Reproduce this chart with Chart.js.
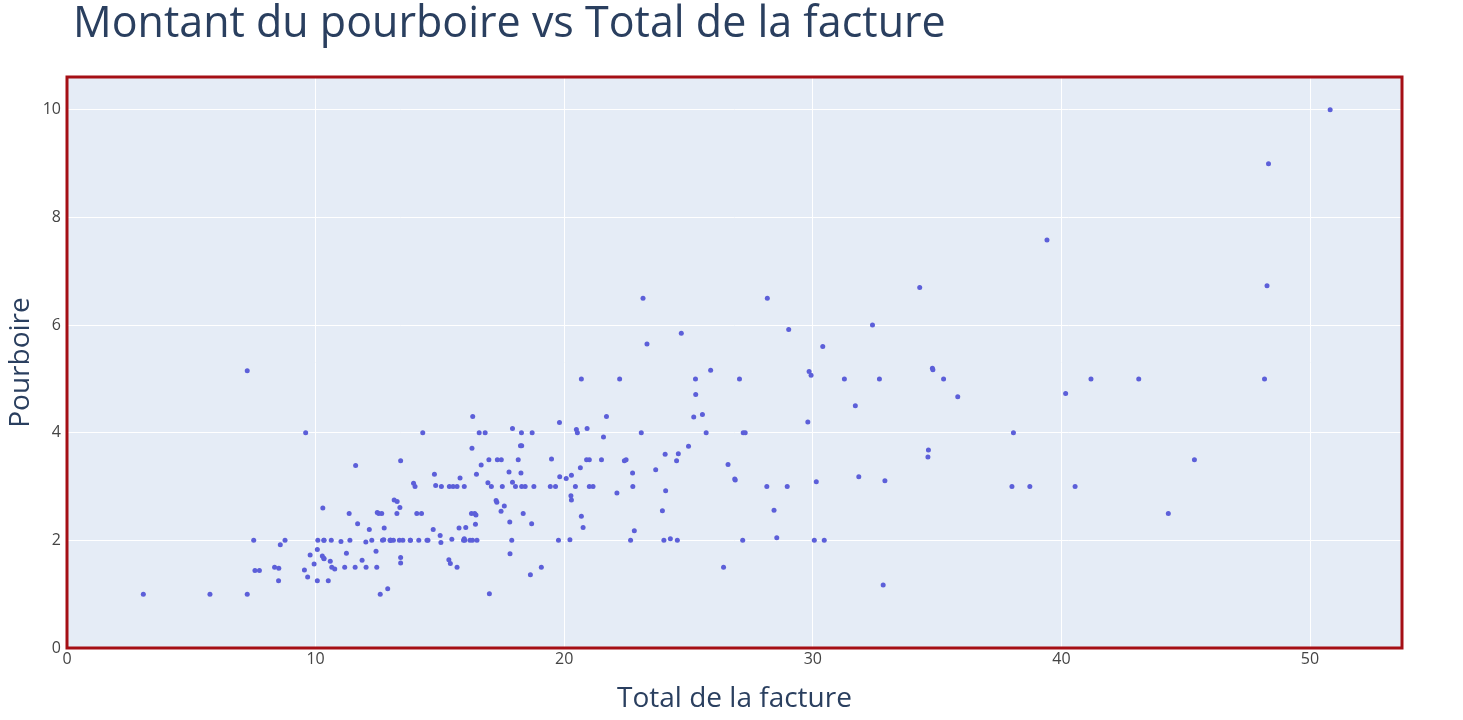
<!DOCTYPE html>
<html><head><meta charset="utf-8">
<script src="https://cdn.jsdelivr.net/npm/chart.js@4"></script>
<style>html,body{margin:0;padding:0;background:#fff}#w{width:1463px;height:720px}</style>
</head><body><div id="w"><canvas id="c"></canvas></div>
<script>
const totalBill=[16.99,10.34,21.01,23.68,24.59,25.29,8.77,26.88,15.04,14.78,10.27,35.26,15.42,18.43,14.83,21.58,10.33,16.29,16.97,20.65,17.92,20.29,15.77,39.42,19.82,17.81,13.37,12.69,21.7,19.65,9.55,18.35,15.06,20.69,17.78,24.06,16.31,16.93,18.69,31.27,16.04,17.46,13.94,9.68,30.4,18.29,22.23,32.4,28.55,18.04,12.54,10.29,34.81,9.94,25.56,19.49,38.01,26.41,11.24,48.27,20.29,13.81,11.02,18.29,17.59,20.08,16.45,3.07,20.23,15.01,12.02,17.07,26.86,25.28,14.73,10.51,17.92,27.2,22.76,17.29,19.44,16.66,10.07,32.68,15.98,34.83,13.03,18.28,24.71,21.16,28.97,22.49,5.75,16.32,22.75,40.17,27.28,12.03,21.01,12.46,11.35,15.38,44.3,22.42,20.92,15.36,20.49,25.21,18.24,14.31,14.0,7.25,38.07,23.95,25.71,17.31,29.93,10.65,12.43,24.08,11.69,13.42,14.26,15.95,12.48,29.8,8.52,14.52,11.38,22.82,19.08,20.27,11.17,12.26,18.26,8.51,10.33,14.15,16.0,13.16,17.47,34.3,41.19,27.05,16.43,8.35,18.64,11.87,9.78,7.51,14.07,13.13,17.26,24.55,19.77,29.85,48.17,25.0,13.39,16.49,21.5,12.66,16.21,13.81,17.51,24.52,20.76,31.71,10.59,10.63,50.81,15.81,7.25,31.85,16.82,32.9,17.89,14.48,9.6,34.63,34.65,23.33,45.35,23.17,40.55,20.69,20.9,30.46,18.15,23.1,15.69,19.81,28.44,15.48,16.58,7.56,10.34,43.11,13.0,13.51,18.71,12.74,13.0,16.4,20.53,16.47,26.59,38.73,24.27,12.76,30.06,25.89,48.33,13.27,28.17,12.9,28.15,11.59,7.74,30.14,12.16,13.42,8.58,15.98,13.42,16.27,10.09,20.45,13.28,22.12,24.01,15.69,11.61,10.77,15.53,10.07,12.6,32.83,35.83,29.03,27.18,22.67,17.82,18.78];
const tipAmount=[1.01,1.66,3.5,3.31,3.61,4.71,2.0,3.12,1.96,3.23,1.71,5.0,1.57,3.0,3.02,3.92,1.67,3.71,3.5,3.35,4.08,2.75,2.23,7.58,3.18,2.34,2.0,2.0,4.3,3.0,1.45,2.5,3.0,2.45,3.27,3.6,2.0,3.07,2.31,5.0,2.24,2.54,3.06,1.32,5.6,3.0,5.0,6.0,2.05,3.0,2.5,2.6,5.2,1.56,4.34,3.51,3.0,1.5,1.76,6.73,3.21,2.0,1.98,3.76,2.64,3.15,2.47,1.0,2.01,2.09,1.97,3.0,3.14,5.0,2.2,1.25,3.08,4.0,3.0,2.71,3.0,3.4,1.83,5.0,2.03,5.17,2.0,4.0,5.85,3.0,3.0,3.5,1.0,4.3,3.25,4.73,4.0,1.5,3.0,1.5,2.5,3.0,2.5,3.48,4.08,1.64,4.06,4.29,3.76,4.0,3.0,1.0,4.0,2.55,4.0,3.5,5.07,1.5,1.8,2.92,2.31,1.68,2.5,2.0,2.52,4.2,1.48,2.0,2.0,2.18,1.5,2.83,1.5,2.0,3.25,1.25,2.0,2.0,2.0,2.75,3.5,6.7,5.0,5.0,2.3,1.5,1.36,1.63,1.73,2.0,2.5,2.0,2.74,2.0,2.0,5.14,5.0,3.75,2.61,2.0,3.5,2.5,2.0,2.0,3.0,3.48,2.24,4.5,1.61,2.0,10.0,3.16,5.15,3.18,4.0,3.11,2.0,2.0,4.0,3.55,3.68,5.65,3.5,6.5,3.0,5.0,3.5,2.0,3.5,4.0,1.5,4.19,2.56,2.02,4.0,1.44,2.0,5.0,2.0,2.0,4.0,2.01,2.0,2.5,4.0,3.23,3.41,3.0,2.03,2.23,2.0,5.16,9.0,2.5,6.5,1.1,3.0,1.5,1.44,3.09,2.2,3.48,1.92,3.0,1.58,2.5,2.0,3.0,2.72,2.88,2.0,3.0,3.39,1.47,3.0,1.25,1.0,1.17,4.67,5.92,2.0,2.0,1.75,3.0];
const chartTitle='Montant du pourboire vs Total de la facture';
const xTitle='Total de la facture', yTitle='Pourboire';
const pts=totalBill.map((x,i)=>({x:x,y:tipAmount[i]}));
const F='"Open Sans", sans-serif';
const keepRound=(step)=>(s)=>{s.ticks=s.ticks.filter(t=>Math.abs(t.value/step-Math.round(t.value/step))<1e-6);};
const deco={id:'deco',
 beforeDraw(c){const a=c.chartArea,g=c.ctx;g.save();g.fillStyle='#e5ecf6';g.fillRect(a.left,a.top,a.right-a.left,a.bottom-a.top);g.restore();},
 afterDraw(c){const a=c.chartArea,g=c.ctx;g.save();g.strokeStyle='#a50f15';g.lineWidth=3;g.strokeRect(a.left,a.top,a.right-a.left,a.bottom-a.top);
  g.fillStyle='#2a3f5f';g.font='43px '+F;g.textBaseline='middle';g.fillText(chartTitle,73,25);g.restore();}};
new Chart(document.getElementById('c'),{type:'scatter',
 data:{datasets:[{data:pts,backgroundColor:'#5c5fd9',borderColor:'#5c5fd9',pointRadius:2.5,pointBorderWidth:0}]},
 options:{responsive:true,maintainAspectRatio:false,animation:false,
  layout:{padding:{top:77,right:61,bottom:0,left:0}},
  plugins:{legend:{display:false},tooltip:{enabled:false}},
  scales:{
   x:{type:'linear',min:0,max:53.7,afterFit(s){s.height=72;},afterBuildTicks:keepRound(10),
      ticks:{stepSize:10,color:'#444',font:{family:F,size:16},padding:2},
      grid:{color:'#ffffff',lineWidth:1,drawTicks:false},border:{display:false},
      title:{display:true,text:xTitle,color:'#2a3f5f',font:{family:F,size:28},padding:{top:6}}},
   y:{type:'linear',min:0,max:10.61,afterFit(s){s.width=67;},afterBuildTicks:keepRound(2),
      ticks:{stepSize:2,color:'#444',font:{family:F,size:16},padding:6},
      grid:{color:'#ffffff',lineWidth:1,drawTicks:false},border:{display:false},
      title:{display:true,text:yTitle,color:'#2a3f5f',font:{family:F,size:28},padding:{bottom:6}}}}},
 plugins:[deco]});
</script></body></html>
